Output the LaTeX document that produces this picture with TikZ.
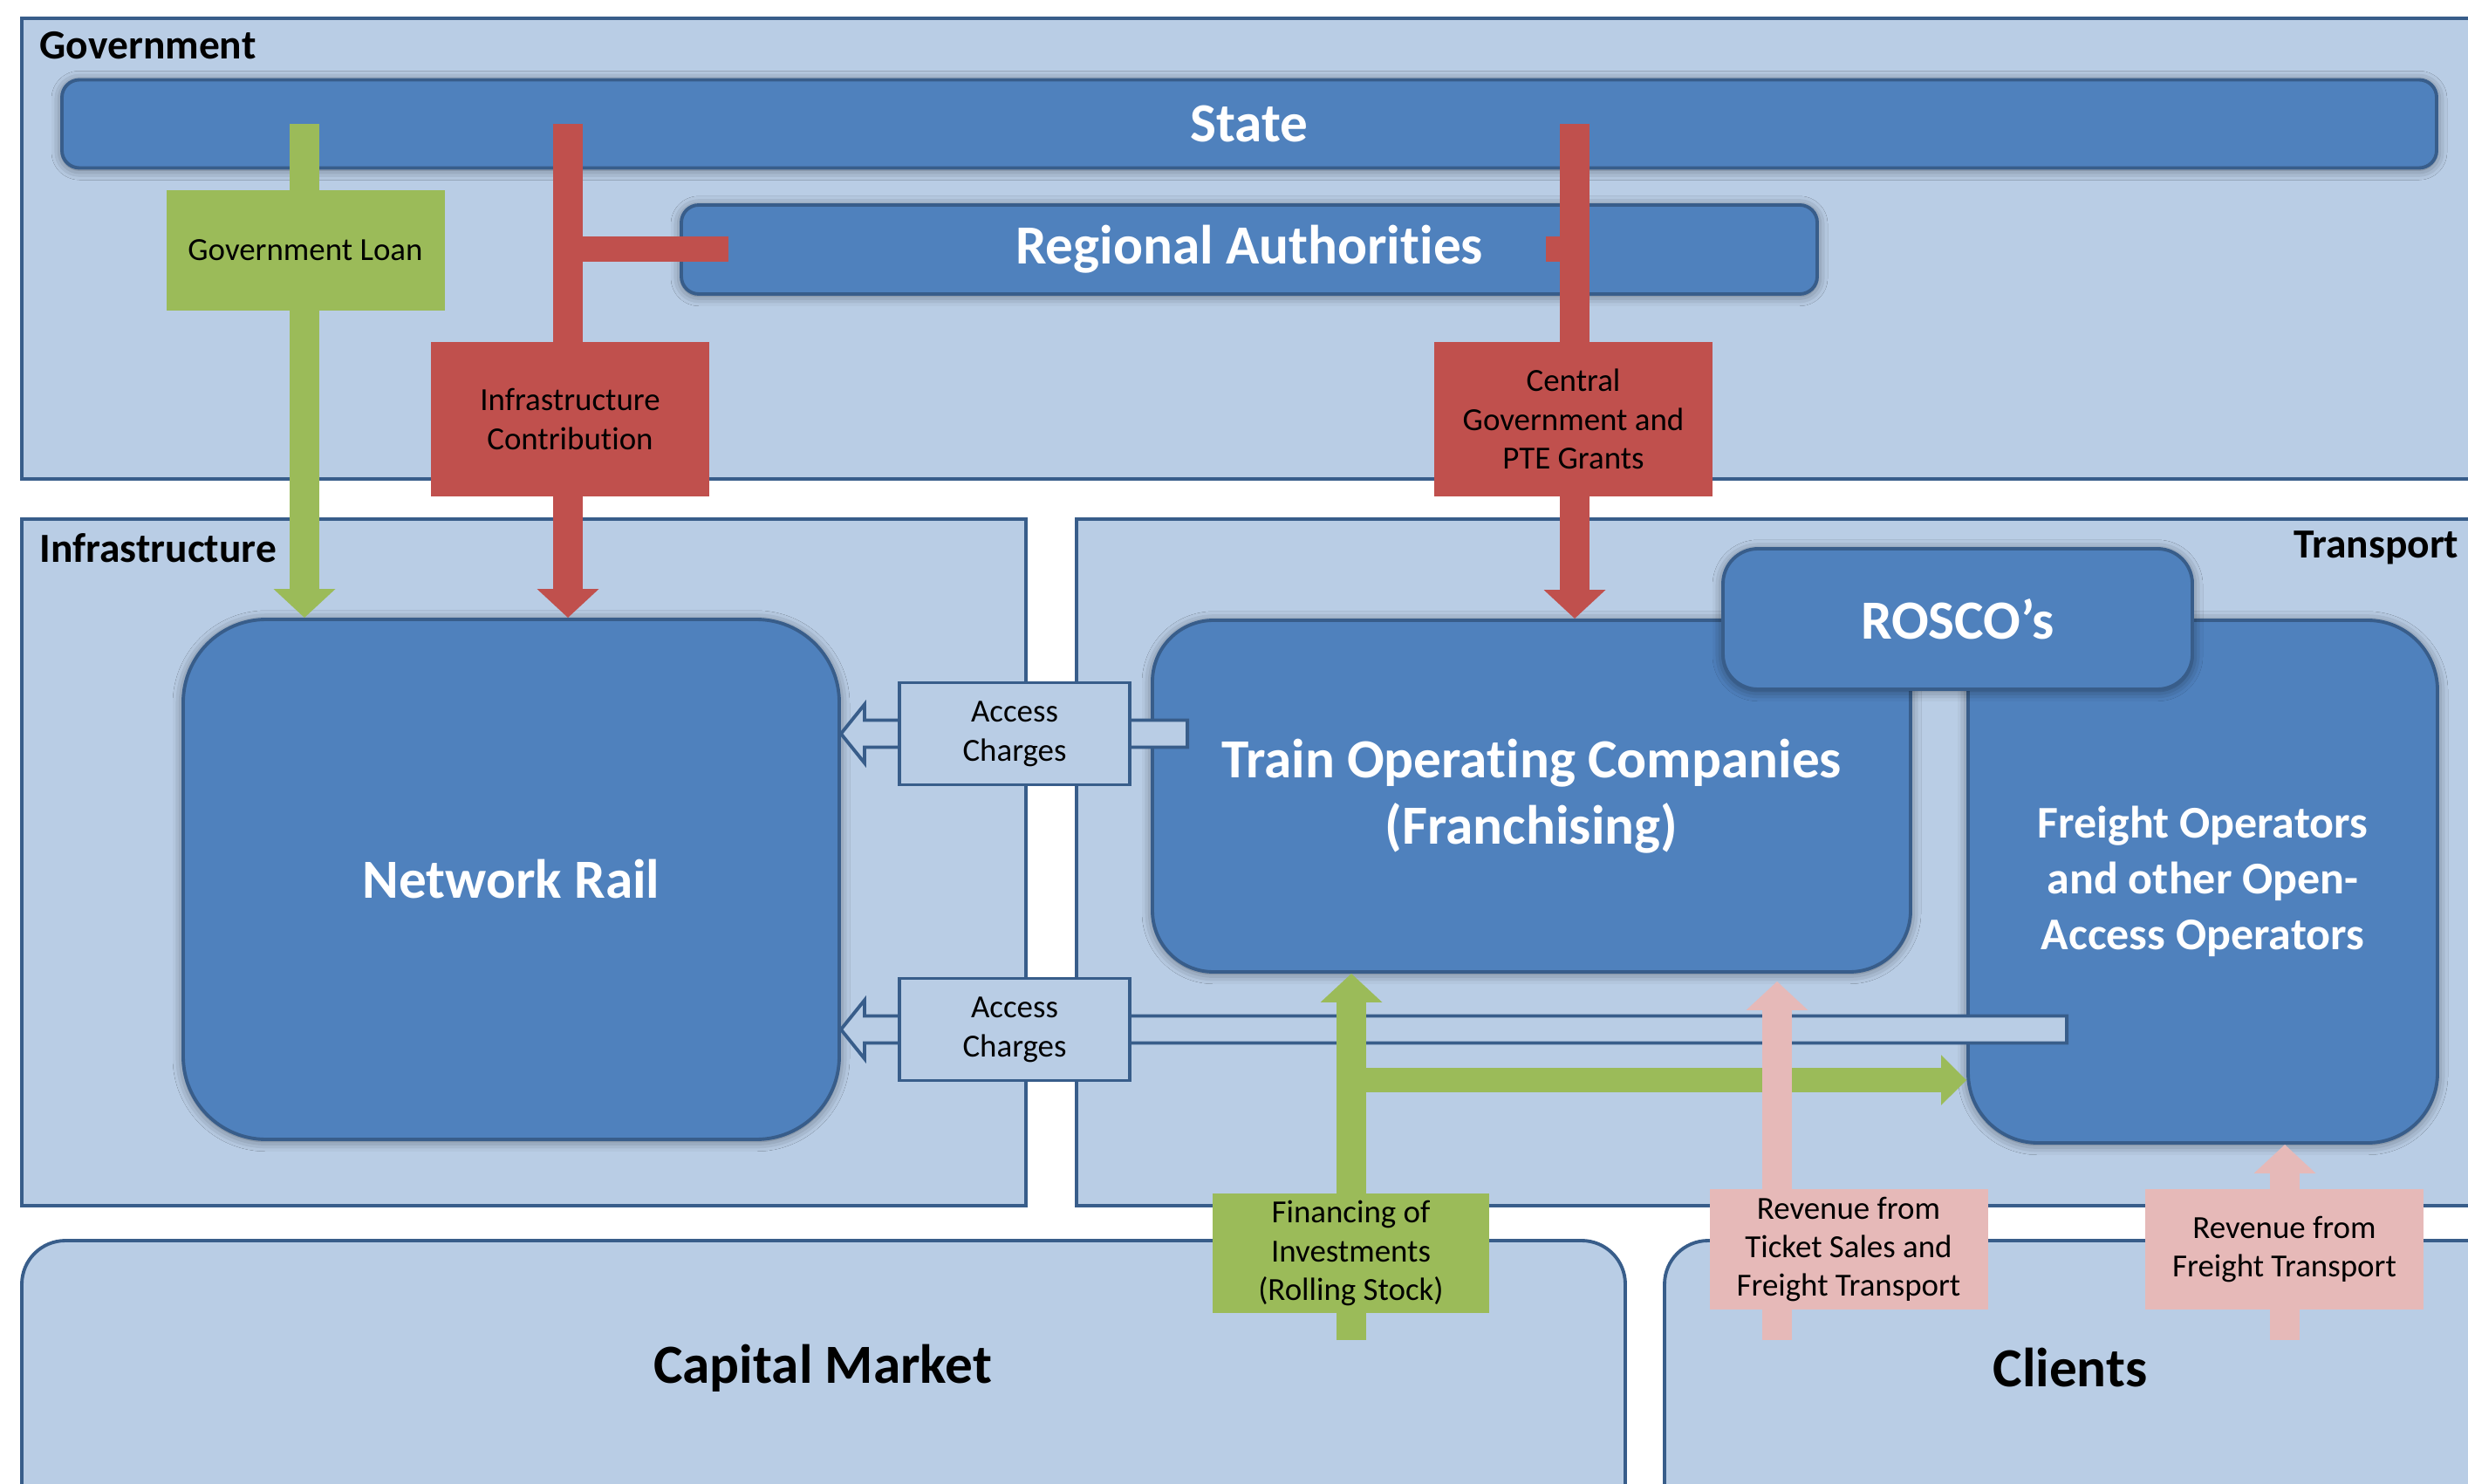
\documentclass[tikz,border=0pt]{standalone}
\usepackage{fontspec}
\setmainfont{Carlito}[Ligatures=NoCommon]
\usetikzlibrary{arrows.meta,calc,shadows.blur}

\definecolor{paneblue}{HTML}{B9CDE5}
\definecolor{edgeblue}{HTML}{385D8A}
\definecolor{boxblue}{HTML}{4F81BD}
\definecolor{loangreen}{HTML}{9BBB59}
\definecolor{grantred}{HTML}{C0504D}
\definecolor{revpink}{HTML}{E6B9B8}

\begin{document}
\begin{tikzpicture}[
    pane/.style={draw=edgeblue, fill=paneblue, line width=1.1pt, anchor=north west, inner sep=0pt, outer sep=0pt},
    panetitle/.style={font=\bfseries\fontsize{13.5}{16}\selectfont, inner sep=0pt},
    bigtitle/.style={font=\bfseries\fontsize{18}{21.6}\selectfont, inner sep=0pt},
    body/.style={draw=edgeblue, fill=boxblue, line width=1.1pt, text=white, align=center,
      font=\bfseries\fontsize{18}{21.6}\selectfont,
      blur shadow={shadow xshift=0pt, shadow yshift=-0.5pt, shadow blur radius=1.2mm, shadow opacity=50}},
    tag/.style={minimum width=3.19cm, inner sep=0pt, align=center, font=\fontsize{10.5}{12.6}\selectfont},
    access/.style={draw=edgeblue, fill=paneblue, line width=1.1pt, minimum width=2.64cm, minimum height=1.17cm,
      inner sep=0pt, align=center, font=\fontsize{10.5}{12.8}\selectfont},
    hollow/.style={draw=edgeblue, fill=paneblue, line width=1.1pt, line join=miter},
    flow/.style={line width=3.4mm, -{Triangle[width=6.9mm,length=3.3mm]}},
  ]
  \useasboundingbox (0,0) rectangle (28.29,-17.01);
  \clip (0,0) rectangle (28.29,-17.01);

  % the five areas
  \node[pane, minimum width=29.5cm, minimum height=5.28cm] (govpane) at (0.25,-0.21) {};
  \node[pane, minimum width=11.51cm, minimum height=7.87cm] (infrapane) at (0.25,-5.95) {};
  \node[pane, minimum width=17.5cm, minimum height=7.87cm] (transpane) at (12.34,-5.95) {};
  \node[pane, minimum width=18.38cm, minimum height=4cm, rounded corners=5mm] (cappane) at (0.25,-14.22) {};
  \node[pane, minimum width=10.5cm, minimum height=4cm, rounded corners=5mm] (clientpane) at (19.08,-14.22) {};
  \node[panetitle, anchor=west] (govtitle) at (0.45,-0.52) {Government};
  \node[panetitle, anchor=west] (infratitle) at (0.45,-6.28) {Infrastructure};
  \node[panetitle, anchor=east] (transtitle) at (28.19,-6.28) {Transport};
  \node[bigtitle] (captitle) at (9.43,-15.68) {Capital Market};
  \node[bigtitle] (clienttitle) at (23.73,-15.68) {Clients};

  % actors
  \node[body, minimum width=27.22cm, minimum height=1.01cm, rounded corners=2mm] (state) at (14.32,-1.42) {State};
  \node[body, minimum width=13.02cm, minimum height=1.02cm, rounded corners=2mm] (regional) at (14.32,-2.86) {Regional Authorities};
  \node[body, minimum width=7.52cm, minimum height=5.96cm, rounded corners=9.5mm] (netrail) at (5.86,-10.08) {Network Rail};
  \node[body, minimum width=8.69cm, minimum height=4.03cm, rounded corners=7mm] (toc) at (17.555,-9.125) {Train Operating Companies\\(Franchising)};
  \node[body, minimum width=5.38cm, minimum height=5.99cm, rounded corners=8mm,
    font=\bfseries\fontsize{14.8}{18.2}\selectfont] (freight) at (25.25,-10.105) {Freight Operators\\and other Open-\\Access Operators};
  \node[body, minimum width=5.38cm, minimum height=1.61cm, rounded corners=4mm] (rosco) at (22.44,-7.095) {ROSCO’s};

  % access charges back to the infrastructure
  \coordinate (acc1c) at (11.63,-8.41);
  \coordinate (acc2c) at (11.63,-11.80);
  \draw[hollow] (netrail.east |- acc1c) -- ++(0.27,0.335) -- ++(0,-0.18)
    -- ($(toc.west |- acc1c)+(0.42,0.155)$) -- ++(0,-0.31)
    -- ($(netrail.east |- acc1c)+(0.27,-0.155)$) -- ++(0,-0.18) -- cycle;
  \draw[hollow] (netrail.east |- acc2c) -- ++(0.27,0.335) -- ++(0,-0.18)
    -- ($(freight.west |- acc2c)+(1.15,0.155)$) -- ++(0,-0.31)
    -- ($(netrail.east |- acc2c)+(0.27,-0.155)$) -- ++(0,-0.18) -- cycle;
  \node[access] (acc1) at (acc1c) {Access\\Charges};
  \node[access] (acc2) at (acc2c) {Access\\Charges};

  % money from the government
  \coordinate (loanx) at (3.49,0);
  \coordinate (infx) at (6.51,0);
  \coordinate (cgx) at (18.05,0);
  \draw[flow, loangreen] (state.center -| loanx) -- (netrail.north -| loanx);
  \draw[flow, grantred] (state.center -| infx) -- (netrail.north -| infx);
  \draw[grantred, line width=2.9mm] (regional.west -| infx) -- ([xshift=5.6mm]regional.west);
  \draw[flow, grantred] (state.center -| cgx) -- (toc.north -| cgx);
  \draw[grantred, line width=2.9mm] (regional.center -| cgx) -- ++(-0.33,0);

  % money from the market and the clients
  \coordinate (finsrc) at (15.49,-15.36);
  \coordinate (finfork) at (15.49,-12.38);
  \coordinate (ticketsrc) at (20.37,-15.36);
  \coordinate (cargosrc) at (26.19,-15.36);
  \draw[loangreen, line width=2.8mm, -{Triangle[width=5.6mm,length=2.9mm]}] (finfork) -- (freight.west |- finfork);
  \draw[flow, loangreen] (finsrc) -- (toc.south -| finsrc);
  \draw[flow, revpink, shorten >=0.9mm] (ticketsrc) -- (toc.south -| ticketsrc);
  \draw[flow, revpink] (cargosrc) -- (freight.south -| cargosrc);

  % flow labels
  \node[tag, fill=loangreen, minimum height=1.38cm] (loan) at (3.50,-2.87) {Government Loan};
  \node[tag, fill=grantred, minimum height=1.77cm] (infcontrib) at (6.535,-4.805) {Infrastructure\\Contribution};
  \node[tag, fill=grantred, minimum height=1.77cm] (grants) at (18.035,-4.805) {Central\\Government and\\PTE Grants};
  \node[tag, fill=loangreen, minimum width=3.17cm, minimum height=1.37cm] (financing) at (15.485,-14.365) {Financing of\\Investments\\(Rolling Stock)};
  \node[tag, fill=revpink, minimum height=1.38cm] (ticketrev) at (21.19,-14.32) {Revenue from\\Ticket Sales and\\Freight Transport};
  \node[tag, fill=revpink, minimum height=1.38cm] (cargorev) at (26.185,-14.32) {Revenue from\\Freight Transport};
\end{tikzpicture}
\end{document}
